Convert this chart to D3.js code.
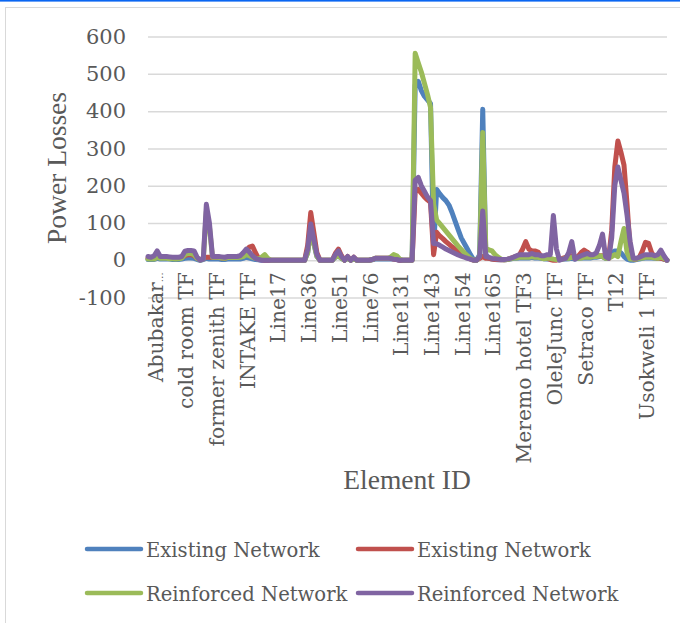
<!DOCTYPE html>
<html><head><meta charset="utf-8">
<script src="https://cdn.jsdelivr.net/npm/d3@7"></script>
<style>body{margin:0;background:#fff} svg{display:block}</style>
</head><body>
<svg id="chart" width="680" height="623"></svg>
<script>
// ---- data ----
const seriesNames = ["Existing Network", "Existing Network", "Reinforced Network", "Reinforced Network"];
const seriesColors = ["#4F81BD", "#C0504D", "#9BBB59", "#8064A2"];
const tickLabels = ["Abubakar…", "cold room TF", "former zenith TF", "INTAKE TF", "Line17", "Line36", "Line51", "Line76",
  "Line131", "Line143", "Line154", "Line165", "Meremo hotel TF3", "OleleJunc TF", "Setraco TF", "T12", "Usokweli 1 TF"];
const labelEvery = 10;
const yTicks = [-100, 0, 100, 200, 300, 400, 500, 600];

const existingA = [
  2,2,2,5,3,3,3,3,2,2,
  2,3,5,6,6,5,2,0,2,5,
  3,3,3,3,2,2,3,3,3,3,
  3,5,8,6,4,2,1,0,0,0,
  0,0,0,0,0,0,0,0,0,0,
  0,0,20,85,45,10,0,0,0,0,
  0,8,12,5,0,5,0,4,0,0,
  0,0,0,1,3,3,3,3,3,3,
  3,2,0,0,0,0,0,470,480,455,
  440,430,420,30,190,178,168,160,148,128,
  105,82,60,45,30,15,2,0,15,405,
  15,5,3,2,1,1,1,2,3,5,
  5,6,6,6,6,8,6,6,5,4,
  3,3,2,2,2,3,3,4,5,3,
  5,6,6,6,6,8,8,10,10,5,
  8,20,25,25,20,10,3,0,0,2,
  3,5,6,6,6,5,5,6,3,0];
const existingB = [
  5,5,5,8,8,8,8,6,6,6,
  6,8,12,15,15,12,5,2,5,8,
  8,8,8,8,6,5,8,8,8,8,
  10,15,25,35,38,20,5,2,0,0,
  0,0,0,0,0,0,0,0,0,0,
  0,0,40,128,75,20,0,0,0,0,
  0,18,30,12,0,10,0,8,0,0,
  0,0,0,2,5,5,5,5,5,5,
  3,2,0,0,0,0,0,185,190,180,
  170,162,155,15,75,65,58,50,43,36,
  30,24,18,12,7,3,0,0,5,10,
  5,5,3,2,2,1,1,2,5,8,
  10,15,30,50,30,25,25,22,10,5,
  5,2,0,0,3,5,8,10,12,8,
  10,20,27,22,15,12,12,12,12,8,
  5,80,250,320,290,255,150,30,3,3,
  8,25,48,45,20,8,5,5,3,0];
const reinforcedA = [
  3,3,3,8,5,5,5,4,4,3,
  4,6,15,18,18,15,5,0,3,130,
  90,8,8,8,6,5,7,7,7,7,
  8,10,15,12,8,5,3,8,15,5,
  0,0,0,0,0,0,0,0,0,0,
  0,0,20,80,45,10,0,0,0,0,
  0,8,12,5,0,5,0,4,0,0,
  0,0,0,2,5,5,5,5,5,8,
  15,12,3,0,0,0,0,555,530,505,
  475,445,410,150,108,98,88,78,68,58,
  48,38,29,20,12,5,0,0,10,343,
  30,28,25,15,8,3,1,2,4,6,
  6,8,8,8,8,10,8,8,6,4,
  5,5,3,2,2,3,5,5,8,5,
  5,6,8,8,8,10,10,12,10,5,
  5,10,15,10,50,85,20,3,3,3,
  5,6,8,8,8,6,5,8,5,0];
const reinforcedB = [
  10,8,12,25,10,10,10,9,8,8,
  8,10,24,26,26,25,8,0,3,150,
  100,10,10,10,9,8,10,10,10,10,
  12,20,30,22,12,5,2,0,0,0,
  0,0,0,0,0,0,0,0,0,0,
  0,0,30,97,55,15,0,0,0,0,
  0,15,25,10,0,10,0,8,0,0,
  0,0,0,2,5,5,5,5,5,5,
  3,2,0,0,0,0,0,215,222,200,
  185,170,160,45,44,40,35,30,26,22,
  18,14,11,8,5,3,0,0,10,132,
  10,8,5,4,3,2,2,3,5,8,
  12,15,15,15,15,18,15,15,12,12,
  15,15,120,30,0,3,5,20,50,3,
  8,12,15,18,15,15,20,40,70,10,
  5,60,200,250,215,180,120,50,5,5,
  8,12,15,15,15,12,15,27,12,0];

const allSeries = [existingA, existingB, reinforcedA, reinforcedB];

// ---- drawing ----
const svg = d3.select("#chart");
const W = 680, H = 623;
const plot = {left: 148, right: 667, top: 36.6, bottom: 297.5};
const textColor = "#595959";
const serif = "'DejaVu Serif', serif";
const titleFont = "'Liberation Serif', serif";

svg.append("rect").attr("width", W).attr("height", H).attr("fill", "#fff");
svg.append("rect").attr("x", 5.5).attr("y", 7.5).attr("width", W).attr("height", H)
  .attr("fill", "none").attr("stroke", "#D9D9D9").attr("stroke-width", 1);
svg.append("rect").attr("x", 0).attr("y", 0).attr("width", W).attr("height", 1.6).attr("fill", "#0A66F2");

const N = existingA.length;
const x = d3.scalePoint().domain(d3.range(N)).range([plot.left, plot.right]);
const y = d3.scaleLinear().domain([-100, 600]).range([plot.bottom, plot.top]);

// y axis with gridlines
const yAxis = svg.append("g").attr("transform", `translate(${plot.left},0)`)
  .call(d3.axisLeft(y).tickValues(yTicks).tickSize(-(plot.right - plot.left)).tickPadding(22).tickFormat(d3.format("d")));
yAxis.select(".domain").remove();
yAxis.selectAll(".tick line").attr("stroke", "#D9D9D9").attr("stroke-width", 1.5);
yAxis.selectAll(".tick text").attr("fill", textColor).style("font-family", serif).style("font-size", "21px")
  .text(d => d < 0 ? "-" + Math.abs(d) : d);

// x axis labels
const tickIdx = tickLabels.map((_, j) => j * labelEvery);
const xAxis = svg.append("g").attr("transform", `translate(0,${y(0)})`)
  .call(d3.axisBottom(x).tickValues(tickIdx).tickSize(0).tickFormat(i => tickLabels[i / labelEvery]));
xAxis.select(".domain").remove();
xAxis.selectAll(".tick text")
  .attr("fill", textColor).style("font-family", serif).style("font-size", "20.3px")
  .attr("transform", "rotate(-90)").attr("x", -12).attr("y", 7).attr("dy", "0.35em")
  .style("text-anchor", "end")
  .each(function(i) {
    const label = tickLabels[i / labelEvery];
    if (label.endsWith("…")) {
      const t = d3.select(this).text(label.slice(0, -1));
      t.append("tspan").style("font-size", "10px").text("…");
    }
  });

// lines
const line = d3.line().x((d, i) => x(i)).y(d => y(d));
allSeries.forEach((s, k) => {
  svg.append("path").datum(s).attr("d", line).attr("fill", "none")
    .attr("stroke", seriesColors[k]).attr("stroke-width", 5)
    .attr("stroke-linejoin", "round").attr("stroke-linecap", "round");
});

// titles
svg.append("text").attr("transform", "translate(66,168) rotate(-90)").attr("text-anchor", "middle")
  .attr("fill", textColor).style("font-family", titleFont).style("font-size", "27.5px").text("Power Losses");
svg.append("text").attr("x", 407).attr("y", 489).attr("text-anchor", "middle")
  .attr("fill", textColor).style("font-family", titleFont).style("font-size", "27.5px").text("Element ID");

// legend
const legendPos = [[87, 549], [358, 549], [87, 593], [358, 593]];
seriesNames.forEach((name, k) => {
  const [lx, ly] = legendPos[k];
  svg.append("line").attr("x1", lx).attr("x2", lx + 54).attr("y1", ly).attr("y2", ly)
    .attr("stroke", seriesColors[k]).attr("stroke-width", 4.5).attr("stroke-linecap", "round");
  svg.append("text").attr("x", lx + 59).attr("y", ly + 7.5).attr("fill", textColor)
    .style("font-family", serif).style("font-size", "19.6px").text(name);
});
</script>
</body></html>
